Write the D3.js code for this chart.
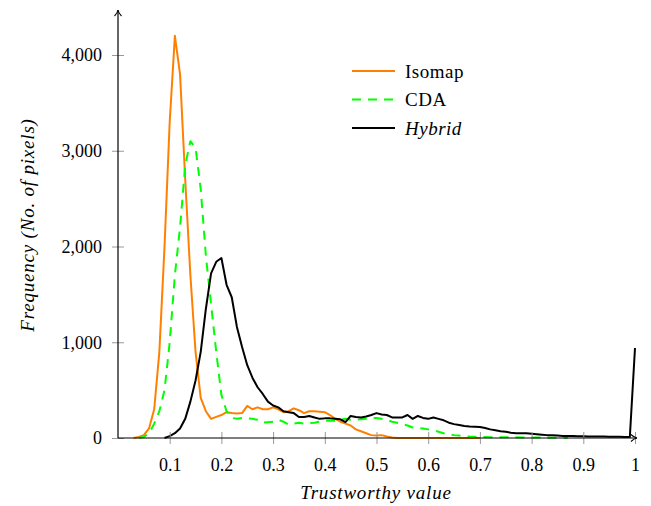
<!DOCTYPE html>
<html>
<head>
<meta charset="utf-8">
<script src="https://cdn.jsdelivr.net/npm/d3@7"></script>
<style>
  body { margin: 0; background: #fff; }
  svg text { font-family: "Liberation Serif", "Times New Roman", Tinos, "DejaVu Serif", "Noto Serif", Times, serif !important; }
</style>
</head>
<body>
<svg id="chart" width="651" height="506"></svg>
<script>
let width = 651,
  height = 506

// trustworthy value bins (x) and frequencies per method
let isomapX = [0.03,0.04,0.05,0.06,0.07,0.08,0.09,0.10,0.11,0.12,0.13,0.14,0.15,0.16,0.17,0.18,0.19,0.20,
  0.21,0.22,0.23,0.24,0.25,0.26,0.27,0.28,0.29,0.30,0.31,0.32,0.33,0.34,0.35,0.36,0.37,0.38,0.39,0.40,
  0.41,0.42,0.43,0.44,0.45,0.46,0.47,0.48,0.49,0.50,0.51,0.52,0.53,0.54,0.56,0.58,0.60,0.62,0.64,0.66,0.68,0.70]
let isomapY = [0,10,30,100,300,900,2000,3300,4200,3800,2700,1700,900,420,280,200,220,240,
  270,260,255,260,335,300,320,300,300,320,300,270,280,310,290,260,280,280,275,270,
  240,200,170,150,130,90,70,50,30,25,30,15,5,0,0,0,0,0,0,0,0,0]

let cdaX = [0.04,0.05,0.06,0.07,0.08,0.09,0.10,0.11,0.12,0.13,0.14,0.15,0.16,0.17,0.18,0.19,0.20,
  0.21,0.22,0.23,0.24,0.25,0.26,0.27,0.28,0.29,0.30,0.31,0.32,0.33,0.34,0.35,0.36,0.37,0.38,0.39,0.40,
  0.41,0.42,0.43,0.44,0.45,0.46,0.47,0.48,0.49,0.50,0.51,0.52,0.53,0.54,0.55,0.56,0.57,0.58,0.59,0.60,
  0.61,0.62,0.63,0.64,0.65,0.66,0.67,0.68,0.69,0.70,0.72,0.74,0.76,0.78,0.80,0.82,0.84,0.86,0.87]
let cdaY = [0,10,50,150,280,500,1000,1700,2200,2850,3100,3030,2600,1900,1400,900,450,
  280,210,200,210,205,200,190,160,165,170,190,170,140,150,160,150,155,160,170,180,
  180,180,190,200,190,190,195,200,210,210,200,190,170,160,145,130,110,105,100,90,
  80,65,50,40,30,25,20,15,12,10,9,8,7,6,5,4,3,2,0]

let hybridX = [0.09,0.10,0.11,0.12,0.13,0.14,0.15,0.16,0.17,0.18,0.19,0.20,
  0.21,0.22,0.23,0.24,0.25,0.26,0.27,0.28,0.29,0.30,0.31,0.32,0.33,0.34,0.35,0.36,0.37,0.38,0.39,0.40,
  0.41,0.42,0.43,0.44,0.45,0.46,0.47,0.48,0.49,0.50,0.51,0.52,0.53,0.54,0.55,0.56,0.57,0.58,0.59,0.60,
  0.61,0.62,0.63,0.64,0.65,0.66,0.67,0.68,0.69,0.70,0.71,0.72,0.73,0.74,0.75,0.76,0.77,0.78,0.79,0.80,
  0.81,0.82,0.83,0.84,0.85,0.86,0.87,0.88,0.89,0.90,0.91,0.92,0.93,0.94,0.95,0.96,0.97,0.98,0.99,1.00]
let hybridY = [0,20,50,100,200,380,600,900,1350,1720,1840,1880,
  1600,1470,1160,950,760,630,530,460,380,340,320,280,270,260,220,220,230,215,200,205,
  205,200,195,165,230,220,215,225,240,260,245,240,215,215,215,240,200,230,210,200,
  215,200,185,160,145,135,125,120,118,115,105,90,80,70,65,55,50,50,50,45,
  40,35,30,28,25,22,20,20,18,18,16,15,15,15,14,12,12,10,10,940]

let xTicks = [0.1,0.2,0.3,0.4,0.5,0.6,0.7,0.8,0.9,1]
let yTicks = [0,1000,2000,3000,4000]

let series = [
  {name: "Isomap", xs: isomapX, ys: isomapY, color: "#ff8000", dash: null, italic: false},
  {name: "CDA", xs: cdaX, ys: cdaY, color: "#00ff00", dash: "9,7", italic: false},
  {name: "Hybrid", xs: hybridX, ys: hybridY, color: "#000000", dash: null, italic: true}
]

let scales = {
  x: d3.scaleLinear().domain([0, 1]).range([118, 635]),
  y: d3.scaleLinear().domain([0, 4470]).range([438, 10])
}

let svg = d3.select("#chart")

svg.append("defs").append("marker")
  .attr("id", "arrow")
  .attr("viewBox", "-6 -4 8 8")
  .attr("refX", 1).attr("refY", 0)
  .attr("markerWidth", 8).attr("markerHeight", 8)
  .attr("markerUnits", "userSpaceOnUse")
  .attr("orient", "auto")
  .append("path")
  .attr("d", "M-5,-3.5 Q-2,-0.5 1,0 Q-2,0.5 -5,3.5")
  .attr("fill", "none")
  .attr("stroke", "#000")
  .attr("stroke-width", 1.1)

function draw_axes() {
  let fmtX = d => d === 1 ? "1" : d3.format(".1f")(d)
  let xAxis = d3.axisBottom(scales.x).tickValues(xTicks).tickFormat(fmtX).tickSizeOuter(0).tickSizeInner(6).tickPadding(14)
  let gx = svg.append("g").attr("transform", `translate(0, ${scales.y(0)})`).call(xAxis)
  gx.attr("font-family", null)
  gx.select(".domain").remove()
  gx.selectAll(".tick line").attr("y1", -6).attr("y2", 6).attr("stroke", "#999").attr("stroke-width", 1)
  gx.selectAll(".tick text").attr("font-size", 18).attr("fill", "#000")

  let yAxis = d3.axisLeft(scales.y).tickValues(yTicks).tickFormat(d3.format(",")).tickSizeOuter(0).tickSizeInner(6).tickPadding(10)
  let gy = svg.append("g").attr("transform", `translate(${scales.x(0)}, 0)`).call(yAxis)
  gy.attr("font-family", null)
  gy.select(".domain").remove()
  gy.selectAll(".tick line").attr("x1", -6).attr("x2", 6).attr("stroke", "#999").attr("stroke-width", 1)
  gy.selectAll(".tick text").attr("font-size", 18).attr("fill", "#000")

  svg.append("line")
    .attr("x1", scales.x(0)).attr("y1", scales.y(0))
    .attr("x2", scales.x(1) + 2).attr("y2", scales.y(0))
    .attr("stroke", "#000").attr("stroke-width", 1.2)
    .attr("marker-end", "url(#arrow)")
  svg.append("line")
    .attr("x1", scales.x(0)).attr("y1", scales.y(0))
    .attr("x2", scales.x(0)).attr("y2", scales.y(4470))
    .attr("stroke", "#000").attr("stroke-width", 1.2)
    .attr("marker-end", "url(#arrow)")

  svg.append("text")
    .attr("x", 376).attr("y", 499)
    .attr("text-anchor", "middle")
    .attr("font-size", 19).attr("font-style", "italic")
    .attr("letter-spacing", 0.8)
    .text("Trustworthy value")

  svg.append("text")
    .attr("transform", "translate(34, 225) rotate(-90)")
    .attr("text-anchor", "middle")
    .attr("font-size", 19).attr("font-style", "italic")
    .attr("letter-spacing", 0.8)
    .text("Frequency (No. of pixels)")
}

function draw_lines() {
  let line_generator = d3.line()
    .x(d => scales.x(d[0]))
    .y(d => scales.y(d[1]))

  svg.append("g")
    .selectAll("path")
    .data(series).enter()
    .append("path")
    .attr("d", s => line_generator(s.xs.map((x, i) => [x, s.ys[i]])))
    .attr("fill", "none")
    .attr("stroke", s => s.color)
    .attr("stroke-width", 2)
    .attr("stroke-linejoin", "round")
    .attr("stroke-dasharray", s => s.dash)
}

function draw_legend() {
  let rows = svg.append("g")
    .selectAll("g")
    .data(series).enter()
    .append("g")
    .attr("transform", (d, i) => `translate(0, ${71 + i * 28.5})`)
  rows.append("line")
    .attr("x1", 352).attr("x2", 395)
    .attr("stroke", d => d.color)
    .attr("stroke-width", 2)
    .attr("stroke-dasharray", d => d.dash)
  rows.append("text")
    .attr("x", 405).attr("y", 6.5)
    .attr("font-size", 19)
    .attr("letter-spacing", 0.5)
    .attr("font-style", d => d.italic ? "italic" : "normal")
    .text(d => d.name)
}

draw_lines()
draw_axes()
draw_legend()
</script>
</body>
</html>
